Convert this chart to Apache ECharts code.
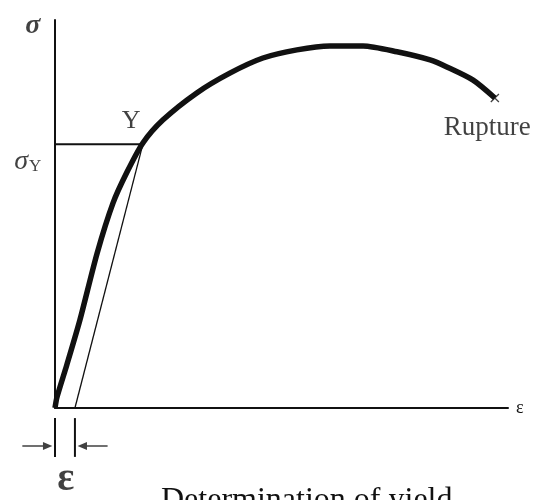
<!DOCTYPE html>
<html>
<head>
    <meta charset="UTF-8">
    <title>Determination of yield</title>
    <style>
        body { margin: 0; background: #fff; }
        #chart { width: 546px; height: 500px; }
    </style>
</head>
<body>
<div id="chart"></div>
<script src="https://cdn.jsdelivr.net/npm/echarts@6/dist/echarts.min.js"></script>
<script>
    // stress-strain curve (axes 0..100)
    const strain = [0, 0.44, 2.6, 5.5, 9.3, 12.8, 15.9, 19.4, 23.8, 31.3, 38.6, 45.9, 53.4, 60.7, 68.0, 75.5, 82.8, 86.5, 92.3, 97.1];
    const stress = [0, 2.8, 11.1, 22.7, 39.9, 52.8, 60.8, 68.3, 74.2, 81.2, 86.3, 90.2, 92.3, 93.3, 93.3, 91.8, 89.7, 87.9, 84.5, 79.9];

    // yield point and offset line
    const yieldPoint = [19.4, 68.0];
    const offsetStrain = 4.4;
    const rupturePoint = [97.1, 79.9];

    // offset marker below the axis
    const tickTop = -2.6, tickBottom = -12.6, arrowY = -9.8;
    const arrowCenters = [-3.9, 8.3];

    const ink = '#111';
    const serif = '"Liberation Serif", "DejaVu Serif", serif';

    const chart = echarts.init(document.getElementById('chart'));

    const curve = strain.map((x, i) => [x, stress[i]]);

    // invisible point carrying a text label
    function textPoint(pos, label) {
        return {
            value: pos,
            symbol: 'circle',
            symbolSize: 1,
            itemStyle: { color: 'rgba(0,0,0,0)' },
            label: Object.assign({
                show: true,
                position: 'inside',
                fontFamily: serif,
                color: ink
            }, label)
        };
    }

    function segment(points, width) {
        return {
            type: 'line',
            data: points,
            clip: false,
            silent: true,
            symbol: 'none',
            lineStyle: { color: ink, width: width }
        };
    }

    const arrowRight = 'path://M0,4L22,4L22,0L32,5L22,10L22,6L0,6Z';
    const arrowLeft = 'path://M32,4L10,4L10,0L0,5L10,10L10,6L32,6Z';

    chart.setOption({
        animation: false,
        title: {
            text: 'Determination of yield',
            left: 156,
            top: 480,
            textStyle: { fontFamily: serif, fontSize: 32, fontWeight: 'normal', color: ink }
        },
        grid: { left: 55, right: 38, top: 20, bottom: 92 },
        xAxis: {
            type: 'value', min: 0, max: 100,
            axisLine: { lineStyle: { color: ink, width: 2 } },
            axisTick: { show: false }, axisLabel: { show: false }, splitLine: { show: false },
            name: 'ε', nameGap: 8,
            nameTextStyle: { fontFamily: serif, fontSize: 18, color: ink }
        },
        yAxis: {
            type: 'value', min: 0, max: 100,
            axisLine: { lineStyle: { color: ink, width: 2 } },
            axisTick: { show: false }, axisLabel: { show: false }, splitLine: { show: false }
        },
        series: [
            {
                type: 'line',
                data: curve,
                smooth: 0.25,
                symbol: 'none',
                lineStyle: { color: ink, width: 5.5 }
            },
            segment([[0, yieldPoint[1]], yieldPoint], 2),
            segment([[offsetStrain, 0], yieldPoint], 1.3),
            {
                type: 'scatter',
                data: [rupturePoint],
                symbol: 'path://M0,1L1,0L5,4L9,0L10,1L6,5L10,9L9,10L5,6L1,10L0,9L4,5Z',
                symbolSize: 9,
                itemStyle: { color: ink }
            },
            segment([[0, tickTop], [0, tickBottom]], 2),
            segment([[offsetStrain, tickTop], [offsetStrain, tickBottom]], 2),
            {
                type: 'scatter',
                clip: false,
                silent: true,
                symbolSize: [30, 8],
                itemStyle: { color: ink },
                data: [
                    { value: [arrowCenters[0], arrowY], symbol: arrowRight },
                    { value: [arrowCenters[1], arrowY], symbol: arrowLeft }
                ]
            },
            {
                type: 'scatter',
                clip: false,
                silent: true,
                data: [
                    textPoint([-4.9, 98.5], { formatter: 'σ', fontSize: 28, fontStyle: 'italic', fontWeight: 'bold' }),
                    textPoint([-6.0, 63.4], {
                        formatter: '{a|σ}{b|Y}',
                        rich: {
                            a: { fontFamily: serif, fontSize: 28, fontStyle: 'italic', color: ink },
                            b: { fontFamily: serif, fontSize: 17, color: ink, padding: [10, 0, 0, 1] }
                        }
                    }),
                    textPoint([16.8, 74.0], { formatter: 'Y', fontSize: 26 }),
                    textPoint([95.4, 72.3], { formatter: 'Rupture', fontSize: 27 }),
                    textPoint([2.4, -18.5], { formatter: 'ε', fontSize: 40, fontWeight: 'bold' })
                ]
            }
        ]
    });
</script>
</body>
</html>
